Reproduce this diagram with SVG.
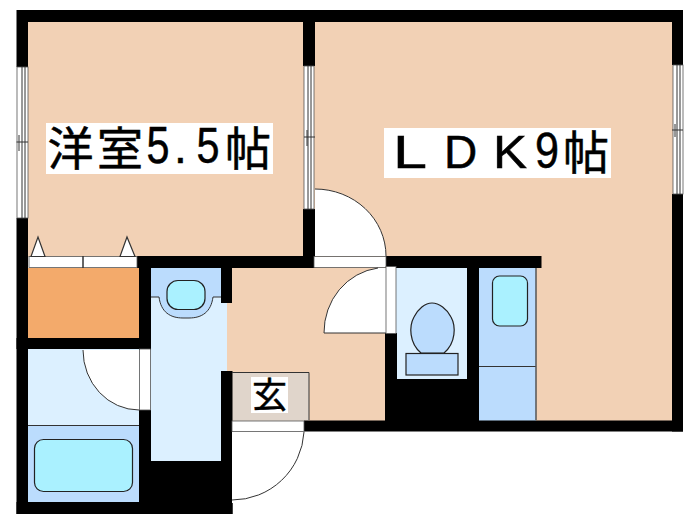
<svg xmlns="http://www.w3.org/2000/svg" width="700" height="525" viewBox="0 0 700 525">
<style>
.wall{fill:#000}
.room{fill:#f2d1b5}
.lt{fill:#dcf0ff}
.bl{fill:#bbdcfd}
.ln{fill:none;stroke:#333;stroke-width:1}
.cy{fill:#aaf1ff;stroke:#222;stroke-width:1.2}
.door{fill:#fff;stroke:#333;stroke-width:1.2}
.strip{fill:#fff;stroke:#555;stroke-width:.8}
.lab{fill:#fff}
text{font-family:"Noto Sans CJK JP","DejaVu Sans",sans-serif;fill:#000;stroke:#000;stroke-width:.5}
.lat{font-family:"Liberation Sans",sans-serif}
</style>
<rect width="700" height="525" fill="#fff"/>
<g id="floors">
<rect class="room" x="28" y="22" width="276" height="235"/>
<rect class="room" x="314" y="22" width="359" height="399"/>
<rect class="room" x="226" y="266" width="160" height="155"/>
<rect x="28" y="268" width="112" height="71" fill="#f3aa6b"/>
<rect class="lt" x="28" y="349" width="112" height="77"/>
<rect class="bl" x="28" y="426" width="112" height="77"/>
<rect class="lt" x="150" y="268" width="77" height="194"/>
<rect class="bl" x="151" y="268" width="71" height="29"/>
<rect class="lt" x="396" y="267" width="72" height="113"/>
<rect class="bl" x="478" y="268" width="58" height="153"/>
<rect x="232" y="372" width="77" height="49" fill="#e0d5cb"/>
</g>
<g id="walls">
<path class="wall" d="M16.5 10H683V65H672V22H315V66H303V22H28V67H16.5Z"/>
<rect class="wall" x="303" y="209" width="12" height="59"/>
<rect class="wall" x="672" y="194" width="11" height="237.500"/>
<rect class="wall" x="304" y="420.500" width="379" height="11"/>
<rect class="wall" x="386" y="256" width="155.500" height="12"/>
<rect class="wall" x="16.5" y="218" width="11.5" height="296"/>
<rect class="wall" x="137" y="256" width="177" height="12"/>
<rect class="wall" x="16.5" y="338" width="134" height="11"/>
<rect class="wall" x="139" y="256" width="12" height="94"/>
<rect class="wall" x="221" y="256" width="11" height="47"/>
<rect class="wall" x="139" y="410" width="12" height="104"/>
<rect class="wall" x="16.5" y="502" width="216" height="12"/>
<rect class="wall" x="146" y="461" width="86" height="53"/>
<rect class="wall" x="221" y="371" width="11.5" height="143"/>
<rect class="wall" x="385" y="333" width="12" height="98"/>
<rect class="wall" x="397" y="379" width="82" height="52"/>
<rect class="wall" x="467" y="268" width="12" height="153"/>
</g>
<g id="windows">
<g id="window-west">
<rect class="strip" x="17" y="67" width="11" height="151"/>
<path class="ln" d="M22 67V218M25 67V218M16.500 142H28M19 135V151"/>
</g>
<g id="window-middle">
<rect class="strip" x="304" y="66" width="10" height="143"/>
<path class="ln" d="M308 66V209M311 66V209M304 137H315M307 130V146"/>
</g>
<g id="window-east">
<rect class="strip" x="673" y="65" width="10" height="129"/>
<path class="ln" d="M677 65V194M680 65V194M672 130H683M675 124V137"/>
</g>
</g>
<g id="closet">
<rect class="strip" x="29" y="256.500" width="108" height="11"/>
<path d="M83 256V268" stroke="#333" stroke-width="1.500"/>
<path class="door" d="M31 256.500L38 237L45 256.500ZM120 256.500L127 237L135 256.500Z"/>
</g>
<g id="doors">
<g id="door-bath">
<path fill="#fff" d="M83 350A56 60 0 0 0 139 410V350Z"/>
<path class="ln" d="M83 350A56 60 0 0 0 139 410" stroke-width="1.200"/>
<rect class="strip" x="139.500" y="349" width="11" height="61"/>
</g>
<g id="door-room">
<path fill="#fff" d="M315 189A71 67 0 0 1 386 256H315Z"/>
<path class="ln" d="M315 189A71 67 0 0 1 386 256" stroke-width="1.200"/>
<rect class="strip" x="314" y="256.500" width="72" height="11"/>
</g>
<g id="door-hall">
<path fill="#fff" d="M378 268A62 65 0 0 0 324 333H386V268Z"/>
<path class="ln" d="M378 268A62 65 0 0 0 324 333H386" stroke-width="1.200"/>
<rect class="strip" x="386" y="266.500" width="10" height="67"/>
</g>
<g id="door-entry">
<path fill="#fff" d="M304 432A72 72 0 0 1 232 503V432Z"/>
<path class="ln" d="M304 432A72 72 0 0 1 232 500" stroke-width="1.200"/>
<rect class="strip" x="232" y="421" width="72" height="10.500"/>
</g>
</g>
<g id="fixtures">
<g id="bath">
<path class="ln" d="M28 425.500H139"/>
<rect class="cy" x="34.500" y="439.500" width="98" height="52" rx="9"/>
</g>
<g id="basin">
<path class="bl" d="M159 297C161 312 170 318 183 318H189C202 318 211 312 213 297Z"/>
<path class="ln" d="M151 297H159C161 312 170 318 183 318H189C202 318 211 312 213 297H221" stroke-width="1.200"/>
<rect class="cy" x="167" y="280.500" width="38" height="29" rx="11"/>
</g>
<g id="toilet">
<path d="M421 353C409 343 409 326 414 317C418 309 425 303 432 303C439 303 447 309 451 317C456 326 456 343 444 353Z" fill="#bbdcfd" stroke="#222" stroke-width="1.200"/>
<rect x="406" y="353.500" width="52" height="21.500" fill="#bbdcfd" stroke="#222" stroke-width="1.200"/>
</g>
<g id="kitchen">
<rect class="cy" x="492.500" y="276" width="35" height="50" rx="7"/>
<path class="ln" d="M479 366.500H536" stroke-width="1.200"/>
<path d="M536 268V420" stroke="#555" stroke-width="1.500"/>
</g>
<path class="ln" d="M232 372.500H309V420"/>
</g>
<g id="labels">
<g id="label-western-room">
<rect class="lab" x="46" y="123" width="227" height="51"/>
<text font-size="46" y="165"><tspan x="47.500">洋</tspan><tspan x="97">室</tspan><tspan class="lat" x="146.500" y="163" font-size="52" textLength="23" lengthAdjust="spacingAndGlyphs">5</tspan><tspan class="lat" x="174" y="163">.</tspan><tspan class="lat" x="196.500" y="163" font-size="50" textLength="23" lengthAdjust="spacingAndGlyphs">5</tspan><tspan x="225" y="165">帖</tspan></text>
</g>
<g id="label-ldk">
<rect class="lab" x="384" y="128" width="227" height="50"/>
<text font-size="46" y="168"><tspan class="lat" x="393" textLength="34" lengthAdjust="spacingAndGlyphs">L</tspan><tspan class="lat" x="444">D</tspan><tspan class="lat" x="493" textLength="34" lengthAdjust="spacingAndGlyphs">K</tspan><tspan class="lat" x="535" font-size="50" textLength="24" lengthAdjust="spacingAndGlyphs">9</tspan><tspan x="563" y="169">帖</tspan></text>
</g>
<g id="label-entry">
<rect class="lab" x="251" y="377" width="37" height="36"/>
<text font-size="35" x="252" y="408">玄</text>
</g>
</g>
</svg>
